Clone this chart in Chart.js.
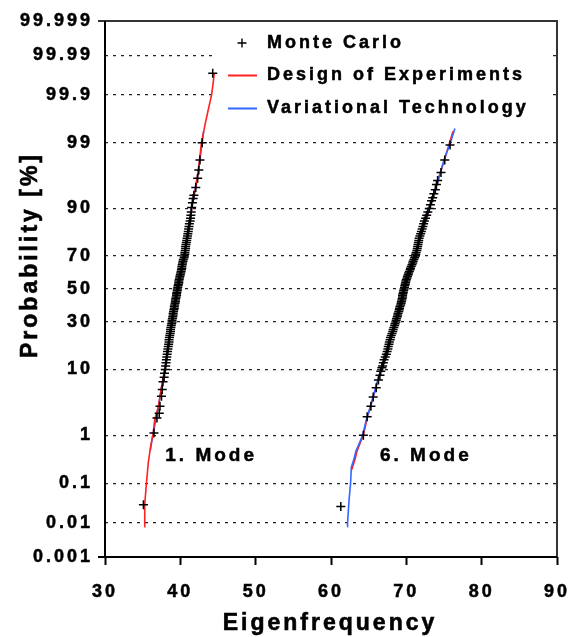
<!DOCTYPE html>
<html>
<head>
<meta charset="utf-8">
<script src="https://cdn.jsdelivr.net/npm/chart.js@4.4.1/dist/chart.umd.min.js"></script>
<style>
  html, body { margin: 0; padding: 0; background: #fff; }
  #wrap { width: 570px; height: 637px; }
</style>
</head>
<body>
<div id="wrap"><canvas id="myChart"></canvas></div>
<script>
// Eixo de probabilidade [%]
const probTicks = [0.001, 0.01, 0.1, 1, 10, 30, 50, 70, 90, 99, 99.9, 99.99, 99.999];
const probTickLabels = ['0.001', '0.01', '0.1', '1', '10', '30', '50', '70', '90', '99', '99.9', '99.99', '99.999'];
const freqMin = 30, freqMax = 90, freqStep = 10;

const legendLabels = ['Monte Carlo', 'Design of Experiments', 'Variational Technology'];
const modeLabels = ['1. Mode', '6. Mode'];

// Monte Carlo - 1. Mode
const mc1Prob = [0.03, 1.1, 2.0, 2.4, 3.1, 4.4, 5.5, 7, 8, 9, 10, 11,
  12, 13, 14, 15, 16, 17, 18, 19, 20, 21, 22, 23, 24, 25, 26, 27, 28, 29, 30,
  31, 32, 33, 34, 35, 36, 37, 38, 39, 40, 41, 42, 43, 44, 45, 46, 47, 48, 49, 50,
  51, 52, 53, 54, 55, 56, 57, 58, 59, 60, 61, 62, 63, 64, 65, 66, 67, 68, 69, 70,
  71, 72, 73, 74, 75, 76, 77, 78, 79, 80, 81, 82, 83, 84, 85, 86, 87, 88,
  89, 90.3, 91.5, 92.5, 93.2, 94.7, 96.1, 97.1, 98, 99, 99.97];
const mc1Freq = [35.1, 36.5, 36.9, 37.2, 37.3, 37.5, 37.6, 37.7, 37.85, 37.9, 38.0, 38.05,
  38.1, 38.15, 38.2, 38.25, 38.3, 38.35, 38.4, 38.45, 38.5, 38.5, 38.55, 38.6, 38.65, 38.7, 38.7, 38.75, 38.8, 38.85, 38.9,
  38.9, 38.95, 39.0, 39.05, 39.05, 39.1, 39.15, 39.2, 39.2, 39.25, 39.3, 39.35, 39.35, 39.4, 39.45, 39.5, 39.5, 39.55, 39.6, 39.6,
  39.65, 39.7, 39.75, 39.8, 39.8, 39.85, 39.9, 39.95, 40.0, 40.05, 40.1, 40.15, 40.2, 40.2, 40.25, 40.3, 40.35, 40.4, 40.5, 40.55,
  40.6, 40.6, 40.65, 40.7, 40.7, 40.75, 40.8, 40.85, 40.9, 40.95, 41.0, 41.05, 41.1, 41.15, 41.2, 41.3, 41.35, 41.4,
  41.45, 41.5, 41.6, 41.7, 41.8, 42.05, 42.3, 42.45, 42.6, 42.9, 44.3];

// Monte Carlo - 6. Mode
const mc6Prob = [0.027, 1.0, 2.1, 3.1, 4.3, 5.8, 7.4, 8.5, 9.5, 10.5, 11,
  12, 13, 14, 15, 16, 17, 18, 19, 20, 21, 22, 23, 24, 25, 26, 27, 28, 29, 30,
  31, 32, 33, 34, 35, 36, 37, 38, 39, 40, 41, 42, 43, 44, 45, 46, 47, 48, 49, 50,
  51, 52, 53, 54, 55, 56, 57, 58, 59, 60, 61, 62, 63, 64, 65, 66, 67, 68, 69, 70,
  71, 72, 73, 74, 75, 76, 77, 78, 79, 80, 81, 82, 83, 84, 85, 86, 87, 88,
  89, 90, 91, 92, 92.7, 93.5, 94.3, 95.2, 95.8, 96.8, 98, 98.9];
const mc6Freq = [61.3, 64.3, 64.8, 65.3, 65.6, 66.0, 66.3, 66.5, 66.6, 66.75, 66.85,
  66.95, 67.05, 67.2, 67.35, 67.45, 67.55, 67.6, 67.7, 67.75, 67.85, 67.9, 68.0, 68.1, 68.2, 68.25, 68.35, 68.45, 68.5, 68.6,
  68.65, 68.7, 68.8, 68.85, 68.9, 69.0, 69.05, 69.1, 69.15, 69.25, 69.3, 69.35, 69.4, 69.45, 69.5, 69.5, 69.55, 69.6, 69.65, 69.7,
  69.75, 69.8, 69.85, 69.9, 69.95, 70.0, 70.1, 70.15, 70.25, 70.3, 70.4, 70.5, 70.55, 70.65, 70.75, 70.85, 70.9, 71.0, 71.1, 71.2,
  71.25, 71.3, 71.4, 71.45, 71.5, 71.55, 71.6, 71.65, 71.7, 71.8, 71.9, 72.0, 72.1, 72.2, 72.3, 72.4, 72.55, 72.7,
  72.85, 73.05, 73.2, 73.35, 73.5, 73.65, 73.85, 74.0, 74.15, 74.6, 75.1, 75.8];

// Design of Experiments
const doe1Prob = [0.0078, 0.01, 0.03, 0.1, 0.29, 0.6, 1.1, 1.9, 3.1, 6, 10, 20, 30, 50, 70, 80, 90, 95, 98, 99, 99.57, 99.78, 99.9, 99.955, 99.97];
const doe1Freq = [35.2, 35.25, 35.3, 35.5, 35.75, 36.05, 36.4, 36.6, 37.1, 37.5, 37.95, 38.5, 38.9, 39.6, 40.55, 40.95, 41.5, 42.1, 42.55, 42.8, 43.3, 43.7, 44.15, 44.4, 44.5];
const doe6Prob = [0.2, 0.34, 0.49, 0.73, 1.0, 2, 5, 10, 30, 50, 70, 90, 98, 99.4];
const doe6Freq = [62.75, 63.2, 63.45, 63.9, 64.3, 64.8, 65.8, 66.65, 68.6, 69.75, 71.2, 73.05, 75.05, 76.2];

// Variational Technology
const vt1Prob = [0.5, 1, 2.5, 5, 10, 30, 50, 70, 90, 97, 99.4];
const vt1Freq = [36.0, 36.35, 36.95, 37.4, 37.9, 38.85, 39.55, 40.5, 41.45, 42.4, 43.1];
const vt6Prob = [0.0078, 0.01, 0.04, 0.1, 0.23, 0.34, 0.49, 0.73, 1.0, 1.9, 3.6, 10, 30, 50, 70, 90, 95, 98, 99, 99.47];
const vt6Freq = [62.15, 62.2, 62.4, 62.6, 62.7, 63.05, 63.3, 63.8, 64.2, 64.7, 65.4, 66.6, 68.55, 69.7, 71.15, 73.0, 74.0, 75.0, 75.85, 76.45];

// quantil da normal padrão (Acklam) - eixo de probabilidade
function probit(pct) {
    const p = pct / 100;
    const a = [-3.969683028665376e+01, 2.209460984245205e+02, -2.759285104469687e+02, 1.383577518672690e+02, -3.066479806614716e+01, 2.506628277459239e+00];
    const b = [-5.447609879822406e+01, 1.615858368580409e+02, -1.556989798598866e+02, 6.680131188771972e+01, -1.328068155288572e+01];
    const c = [-7.784894002430293e-03, -3.223964580411365e-01, -2.400758277161838e+00, -2.549732539343734e+00, 4.374664141464968e+00, 2.938163982698783e+00];
    const d = [7.784695709041462e-03, 3.224671290700398e-01, 2.445134137142996e+00, 3.754408661907416e+00];
    const pl = 0.02425;
    let q, r;
    if (p < pl) {
        q = Math.sqrt(-2 * Math.log(p));
        return (((((c[0] * q + c[1]) * q + c[2]) * q + c[3]) * q + c[4]) * q + c[5]) / ((((d[0] * q + d[1]) * q + d[2]) * q + d[3]) * q + 1);
    }
    if (p > 1 - pl) {
        q = Math.sqrt(-2 * Math.log(1 - p));
        return -(((((c[0] * q + c[1]) * q + c[2]) * q + c[3]) * q + c[4]) * q + c[5]) / ((((d[0] * q + d[1]) * q + d[2]) * q + d[3]) * q + 1);
    }
    q = p - 0.5;
    r = q * q;
    return (((((a[0] * r + a[1]) * r + a[2]) * r + a[3]) * r + a[4]) * r + a[5]) * q / (((((b[0] * r + b[1]) * r + b[2]) * r + b[3]) * r + b[4]) * r + 1);
}

const pts = (freq, prob) => freq.map((f, i) => ({ x: f, y: probit(prob[i]) }));

const FONT = '"Liberation Sans", Arial, sans-serif';
const RED = '#ff2222';
const BLUE = '#3366ff';

function mcSet(freq, prob) {
    return {
        label: legendLabels[0], data: pts(freq, prob), showLine: false,
        pointStyle: 'cross', pointRadius: 4.5, pointBorderColor: '#000', pointBorderWidth: 1.5,
        pointHoverRadius: 4.5
    };
}
function lineSet(label, color, freq, prob) {
    return {
        label: label, data: pts(freq, prob), showLine: true, borderColor: color,
        borderWidth: 1.6, pointRadius: 0, pointHoverRadius: 0, tension: 0
    };
}

function boldText(ctx, text, x, y) {
    ctx.fillText(text, x, y);
    ctx.strokeText(text, x, y);
}

// Plugin: moldura, legenda, rótulos e títulos dos eixos
const decor = {
    id: 'decor',
    beforeDraw(chart) {
        chart.ctx.letterSpacing = '3px';
    },
    beforeDatasetsDraw(chart) {
        const ctx = chart.ctx;
        ctx.save();
        ctx.fillStyle = '#fff';
        ctx.fillRect(214, 27, 336, 96);
        ctx.font = 'bold 18px ' + FONT;
        ctx.fillStyle = '#000';
        ctx.textAlign = 'left';
        ctx.textBaseline = 'middle';
        ctx.strokeStyle = '#000';
        ctx.lineWidth = 1.4;
        ctx.beginPath();
        ctx.moveTo(237.5, 43); ctx.lineTo(246.5, 43);
        ctx.moveTo(242, 38.5); ctx.lineTo(242, 47.5);
        ctx.stroke();
        ctx.lineWidth = 2;
        ctx.strokeStyle = RED;
        ctx.beginPath(); ctx.moveTo(228, 75.5); ctx.lineTo(257, 75.5); ctx.stroke();
        ctx.strokeStyle = BLUE;
        ctx.beginPath(); ctx.moveTo(228, 108.5); ctx.lineTo(257, 108.5); ctx.stroke();
        ctx.strokeStyle = '#000';
        ctx.lineWidth = 0.5;
        boldText(ctx, legendLabels[0], 267, 43);
        boldText(ctx, legendLabels[1], 267, 75.5);
        boldText(ctx, legendLabels[2], 267, 108);
        ctx.restore();
    },
    afterDraw(chart) {
        const ctx = chart.ctx;
        const a = chart.chartArea;
        const xs = chart.scales.x, ys = chart.scales.y;
        ctx.save();
        // moldura
        ctx.lineWidth = 2;
        ctx.strokeStyle = '#333';
        ctx.beginPath();
        ctx.moveTo(a.left - 7, a.top); ctx.lineTo(a.right, a.top); ctx.lineTo(a.right, a.bottom);
        ctx.stroke();
        ctx.strokeStyle = '#000';
        ctx.beginPath();
        ctx.moveTo(a.left, a.top); ctx.lineTo(a.left, a.bottom);
        ctx.moveTo(a.left - 7, a.bottom); ctx.lineTo(a.right, a.bottom);
        ctx.stroke();
        // rótulos dos modos
        ctx.fillStyle = '#000';
        ctx.lineWidth = 0.5;
        ctx.font = 'bold 19px ' + FONT;
        ctx.textAlign = 'left';
        ctx.textBaseline = 'middle';
        boldText(ctx, modeLabels[0], xs.getPixelForValue(38), ys.getPixelForValue(probit(0.4)));
        boldText(ctx, modeLabels[1], xs.getPixelForValue(66.5), ys.getPixelForValue(probit(0.4)));
        // títulos dos eixos
        ctx.font = 'bold 23px ' + FONT;
        ctx.lineWidth = 0.6;
        ctx.textAlign = 'center';
        ctx.textBaseline = 'alphabetic';
        boldText(ctx, 'Eigenfrequency', 330, 630);
        ctx.translate(37, 255);
        ctx.rotate(-Math.PI / 2);
        boldText(ctx, 'Probability [%]', 0, 0);
        ctx.restore();
    }
};

const data = {
    datasets: [
        mcSet(mc1Freq, mc1Prob),
        mcSet(mc6Freq, mc6Prob),
        lineSet(legendLabels[1], RED, doe1Freq, doe1Prob),
        lineSet(legendLabels[2], BLUE, vt6Freq, vt6Prob),
        lineSet(legendLabels[2], BLUE, vt1Freq, vt1Prob),
        lineSet(legendLabels[1], RED, doe6Freq, doe6Prob)
    ]
};

const tickFont = { family: FONT, size: 18, weight: 'bold' };

const options = {
    responsive: true,
    maintainAspectRatio: false,
    animation: false,
    layout: { padding: { left: 0, right: 13, top: 21, bottom: 0 } },
    plugins: { legend: { display: false }, tooltip: { enabled: false } },
    scales: {
        x: {
            type: 'linear', min: freqMin, max: freqMax,
            ticks: { stepSize: freqStep, color: '#000', font: tickFont, padding: 16, maxRotation: 0,
                textStrokeColor: '#000', textStrokeWidth: 0.5 },
            grid: { drawOnChartArea: false, drawTicks: true, tickLength: 8, tickColor: '#000', tickWidth: 2 },
            border: { display: false },
            afterFit(scale) { scale.height = 80; scale.paddingLeft = 0; scale.paddingRight = 0; }
        },
        y: {
            type: 'linear', min: probit(probTicks[0]), max: probit(probTicks[probTicks.length - 1]),
            afterBuildTicks(scale) { scale.ticks = probTicks.map(p => ({ value: probit(p) })); },
            ticks: {
                color: '#000', font: tickFont, padding: 12,
                textStrokeColor: '#000', textStrokeWidth: 0.5,
                callback: (v, i) => probTickLabels[i]
            },
            grid: {
                drawTicks: false, lineWidth: 1.3,
                color: (c) => (c.index === 0 || c.index === probTicks.length - 1) ? 'rgba(0,0,0,0)' : '#222'
            },
            border: { display: false, dash: [3, 5] },
            afterFit(scale) { scale.width = 105; scale.paddingTop = 0; scale.paddingBottom = 0; }
        }
    }
};

const ctx = document.getElementById('myChart').getContext('2d');
const myChart = new Chart(ctx, {
    type: 'scatter',
    data: data,
    options: options,
    plugins: [decor]
});
</script>
</body>
</html>
